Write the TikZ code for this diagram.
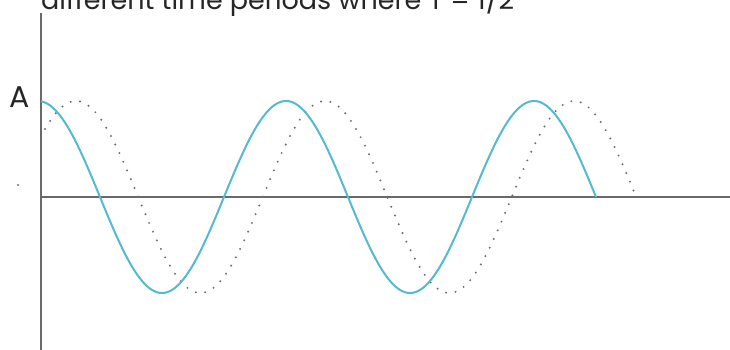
\documentclass[tikz,border=0pt]{standalone}
\usepackage{fontspec}
\setmainfont{Poppins}
\definecolor{wave}{RGB}{84,186,208}
\definecolor{axisgray}{RGB}{105,105,105}
\definecolor{dotgray}{RGB}{110,110,110}
\begin{document}
\begin{tikzpicture}[x=1pt,y=-1pt,
  axis/.style={draw=axisgray, line width=2.2pt},
  wavecurve/.style={draw=wave, line width=2pt},
  dotcurve/.style={draw=dotgray, line width=2.2pt, line cap=round, dash pattern=on 0pt off 9.5pt},
  lbl/.style={inner sep=0pt, text=black!85}]
\clip (0,0) rectangle (730,350);
\useasboundingbox (0,0) rectangle (730,350);
\node[lbl, anchor=base west, font=\fontsize{27}{27}\selectfont] (title) at (41,10) {different time periods where T = 1/2};
\node[lbl, anchor=base west, font=\fontsize{30}{30}\selectfont] (alabel) at (9,107) {A};
\coordinate (origin) at (41,197);
\coordinate (ytop) at (41,13);
\coordinate (ybot) at (41,352);
\coordinate (xend) at (732,197);
\draw[axis] (ytop) -- (ybot);
\draw[axis] (origin) -- (xend);
\fill[dotgray] (18,185) circle (1.1pt);
\draw[dotcurve] plot[domain=45:637, samples=300] (\x, {197-96*cos(1.445783*(\x-76))});
\draw[wavecurve] plot[domain=41:596, samples=300] (\x, {197-96*cos(1.451613*(\x-38))});
\end{tikzpicture}
\end{document}
